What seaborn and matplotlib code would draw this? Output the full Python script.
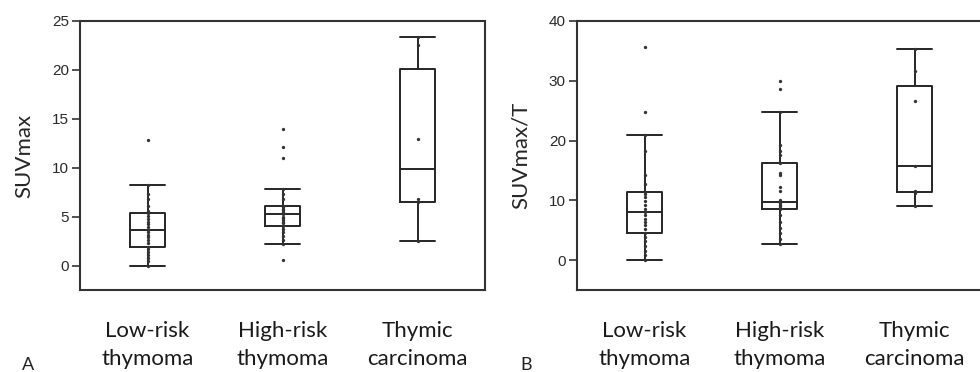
import numpy as np
import seaborn as sns
import pandas as pd
import matplotlib.pyplot as plt

groups = ["Low-risk\nthymoma", "High-risk\nthymoma", "Thymic\ncarcinoma"]

suv_low = [0.0, 0.5, 0.8, 1.1, 1.4, 1.7, 1.94, 2.3, 2.6, 2.9, 3.1, 3.4, 3.64,
           3.9, 4.2, 4.5, 4.8, 5.1, 5.35, 5.6, 6.1, 6.8, 7.3, 8.2, 12.8]
suv_high = [0.55, 2.2, 2.6, 3.0, 3.4, 3.7, 4.05, 4.3, 4.5, 4.7, 4.9, 5.0, 5.22,
            5.4, 5.5, 5.7, 5.8, 6.0, 6.1, 6.8, 7.3, 7.8, 11.0, 12.1, 14.0]
suv_carc = [2.55, 6.45, 6.8, 12.9, 22.5, 23.4]

# panel B: SUVmax/T per group
suvt_low = [0.0, 0.8, 1.6, 2.4, 3.2, 3.9, 4.57, 5.2, 5.8, 6.4, 6.9, 7.5, 7.98,
            8.5, 9.2, 9.9, 10.5, 11.0, 11.43, 12.8, 14.2, 18.3, 20.9, 24.8, 35.7]
suvt_high = [2.7, 3.6, 4.5, 5.3, 6.3, 7.6, 8.54, 8.8, 9.0, 9.3, 9.5, 9.7, 9.76,
             10.0, 11.5, 12.2, 14.2, 14.6, 16.3, 17.6, 18.2, 19.2, 24.8, 28.7, 30.0]
suvt_carc = [9.0, 11.2, 11.6, 15.7, 26.7, 31.7, 35.3]


def long_form(series):
    rows = []
    for g, vals in zip(groups, series):
        rows += [(g, v) for v in vals]
    return pd.DataFrame(rows, columns=["group", "value"])


dfa = long_form([suv_low, suv_high, suv_carc])
dfb = long_form([suvt_low, suvt_high, suvt_carc])

sns.set_theme(style="white")
plt.rcParams["font.family"] = ["Lato", "DejaVu Sans"]

fig = plt.figure(figsize=(9.8, 3.72), dpi=100)
ax1 = fig.add_axes([80 / 980, 1 - 290 / 372, 405 / 980, 269 / 372])
ax2 = fig.add_axes([577 / 980, 1 - 290 / 372, 405 / 980, 269 / 372])

line = "#262626"
panels = [(ax1, dfa, "SUVmax", (-2.5, 25), np.arange(0, 26, 5)),
          (ax2, dfb, "SUVmax/T", (-5, 40), np.arange(0, 41, 10))]

for ax, df, ylab, ylim, yt in panels:
    sns.boxplot(data=df, x="group", y="value", order=groups, width=0.26,
                fill=False, color=line, linewidth=1.4, showfliers=False,
                capwidths=0.26, ax=ax)
    sns.stripplot(data=df, x="group", y="value", order=groups, jitter=False,
                  size=2.4, color="#333333", ax=ax)
    ax.set_xlim(-0.5, 2.5)
    ax.set_ylim(*ylim)
    ax.set_yticks(yt)
    ax.set_xlabel("")
    ax.set_ylabel(ylab, fontsize=16, labelpad=13)
    for s in ax.spines.values():
        s.set_visible(True)
        s.set_color("#333333")
        s.set_linewidth(1.5)
    ax.tick_params(axis="y", direction="out", length=6, width=1.2,
                   color="#333333", pad=2, left=True)
    ax.tick_params(axis="x", length=0, pad=22)
    for t in ax.get_yticklabels():
        t.set_family("Liberation Sans")
        t.set_fontsize(11)
        t.set_color("#2a2a2a")
    for t in ax.get_xticklabels():
        t.set_fontsize(16)
        t.set_color("#1a1a1a")
        t.set_linespacing(1.55)

fig.text(28 / 980, 1 - 365 / 372, "A", ha="center", va="center", fontsize=13, color="#222222")
fig.text(526 / 980, 1 - 365 / 372, "B", ha="center", va="center", fontsize=13, color="#222222")

fig.savefig("out.png", dpi=100)
